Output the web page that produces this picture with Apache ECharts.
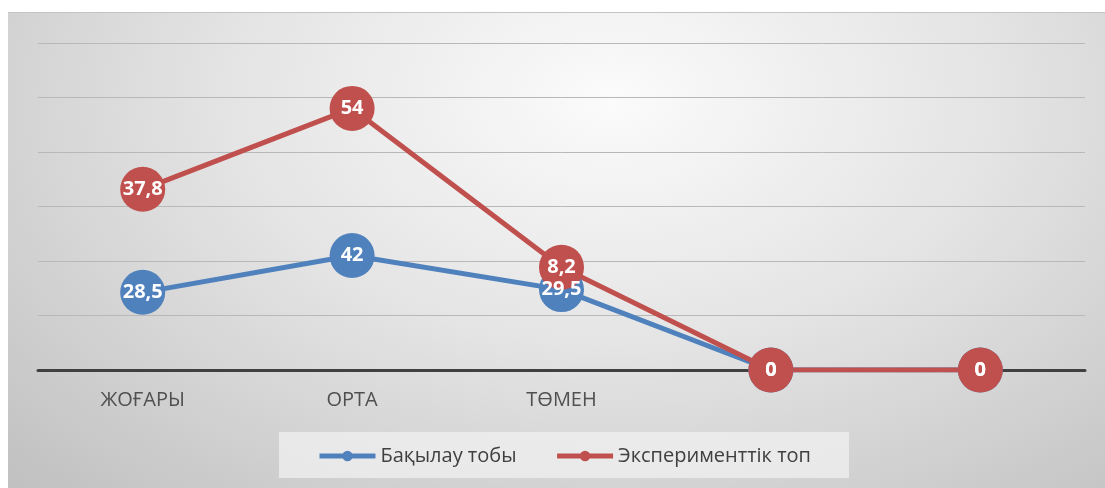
<!DOCTYPE html>
<html lang="kk">
<head>
  <meta charset="utf-8">
</head>
<body style="margin: 0; background: #ffffff; width: 1105px; height: 488px; position: relative; overflow: hidden">
  <div id="container" style="position: absolute; left: 8px; top: 12px; width: 1097px; height: 476px; border-top: 1px solid #c4c4c4; box-sizing: border-box; background: radial-gradient(ellipse farthest-corner at 55% 18%, #fbfbfb 0%, #e4e4e4 45%, #c0c0c0 100%)"></div>
  <script type="text/javascript" src="https://fastly.jsdelivr.net/npm/echarts@6/dist/echarts.min.js"></script>
  <script type="text/javascript">
    var categories = ['ЖОҒАРЫ', 'ОРТА', 'ТӨМЕН', '', ''];
    var controlGroup = [28.5, 42, 29.5, 0, 0];
    var experimentGroup = [37.8, 54, 8.2, 0, 0];
    var seriesNames = ['Бақылау тобы', 'Эксперименттік топ'];

    var fontFamily = '"Open Sans", "Noto Sans", sans-serif';

    var myChart = echarts.init(document.getElementById('container'));

    // Excel-style decimal comma
    var commaLabel = function(param)
    {
        return String(param.value).replace('.', ',');
    };

    var makeSeries = function(name, data, color)
    {
        return {
            name: name,
            type: 'line',
            stack: 'total',
            data: data,
            symbol: 'circle',
            symbolSize: 45,
            showAllSymbol: true,
            lineStyle: { color: color, width: 5 },
            itemStyle: { color: color },
            label:
            {
                show: true,
                position: 'inside',
                formatter: commaLabel,
                color: '#fff',
                fontSize: 20,
                fontWeight: 'bold',
                fontFamily: fontFamily
            },
            emphasis: { disabled: true },
            animation: false
        };
    };

    var option =
    {
        backgroundColor: 'transparent',
        grid:
        {
            left: 30,
            right: 20,
            top: 30,
            bottom: 118
        },
        legend:
        {
            data: seriesNames,
            bottom: 10,
            left: 271,
            itemWidth: 56,
            itemHeight: 13,
            itemGap: 38,
            padding: [14, 38, 12, 38],
            backgroundColor: 'rgba(240,240,240,0.75)',
            lineStyle: { width: 5 },
            textStyle:
            {
                color: '#404040',
                fontSize: 20,
                fontFamily: fontFamily
            }
        },
        xAxis:
        {
            type: 'category',
            data: categories,
            boundaryGap: true,
            axisLine: { lineStyle: { color: '#404040', width: 3 } },
            axisTick: { show: false },
            axisLabel:
            {
                color: '#505050',
                fontSize: 20,
                margin: 20,
                fontFamily: fontFamily
            }
        },
        yAxis:
        {
            type: 'value',
            min: 0,
            max: 120,
            interval: 20,
            axisLine: { show: false },
            axisTick: { show: false },
            axisLabel: { show: false },
            splitLine: { lineStyle: { color: '#b8b8b8', width: 1 } }
        },
        series:
        [
            makeSeries(seriesNames[0], controlGroup, '#4f81bd'),
            makeSeries(seriesNames[1], experimentGroup, '#c0504d')
        ]
    };

    myChart.setOption(option);
  </script>
</body>
</html>
